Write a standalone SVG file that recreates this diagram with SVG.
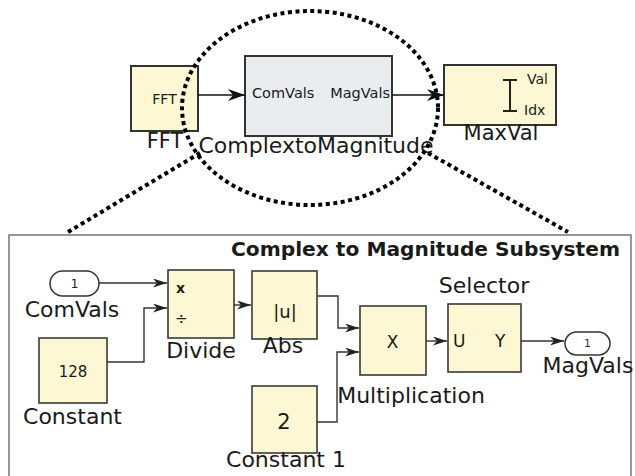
<svg xmlns="http://www.w3.org/2000/svg" width="635" height="476" viewBox="0 0 635 476">
<defs>
<marker id="arrS" markerUnits="userSpaceOnUse" markerWidth="15" markerHeight="10" refX="14" refY="4.5" orient="auto">
<path d="M0,0 L14,4.5 L0,9 L4,4.5 Z" fill="#222"/>
</marker>
<marker id="arrL" markerUnits="userSpaceOnUse" markerWidth="18" markerHeight="13" refX="17" refY="6" orient="auto">
<path d="M0,0 L17,6 L0,12 L5,6 Z" fill="#111"/>
</marker>
</defs>
<style>
text{font-family:"DejaVu Sans","Liberation Sans",sans-serif;fill:#1a1a1a}
.blk{fill:#fdf8d3;stroke:#3a3a3a;stroke-width:1.6}
.blkT{fill:#fdf8d3;stroke:#333;stroke-width:2}
.gray{fill:#e9edf0;stroke:#333;stroke-width:2}
.port{fill:#fff;stroke:#333;stroke-width:1.5}
.wire{fill:none;stroke:#333;stroke-width:1.4}
.wireT{fill:none;stroke:#111;stroke-width:1.6}
.dot{fill:none;stroke:#000;stroke-width:4;stroke-dasharray:4 3.5}
.lbl{font-size:22px}
.lblT{font-size:21px}
</style>

<!-- top level blocks -->
<g id="fft">
<rect class="blkT" x="131" y="66" width="67" height="65"/>
<text x="164.5" y="104" font-size="14" text-anchor="middle">FFT</text>
<text class="lblT" x="165" y="148" text-anchor="middle">FFT</text>
</g>
<g id="complexToMagnitude">
<rect class="gray" x="245" y="56" width="147" height="80"/>
<text x="252" y="98" font-size="14.5">ComVals</text>
<text x="390" y="98" font-size="14.5" text-anchor="end">MagVals</text>
<text x="316" y="153" font-size="22" text-anchor="middle">ComplextoMagnitude</text>
</g>
<g id="maxVal">
<rect class="blkT" x="444" y="65" width="112" height="60"/>
<path d="M510,80 V111 M503,80 H517 M503,111 H517" stroke="#222" stroke-width="2" fill="none"/>
<text x="527" y="84" font-size="14">Val</text>
<text x="524" y="115" font-size="14">Idx</text>
<text class="lblT" x="501" y="140" text-anchor="middle">MaxVal</text>
</g>

<!-- zoom indicator -->
<g id="zoomOutline">
<ellipse class="dot" cx="310" cy="108" rx="128" ry="97"/>
<path class="dot" d="M68,232 L200,153"/>
<path class="dot" d="M428,153 L568,232"/>
</g>

<!-- subsystem frame -->
<g id="subsystem">
<rect x="9" y="235" width="622" height="250" fill="none" stroke="#777" stroke-width="1.5"/>
<text x="620" y="256" font-size="20.2" font-weight="bold" text-anchor="end">Complex to Magnitude Subsystem</text>
</g>

<g id="inComVals">
<rect class="port" x="50" y="271" width="49" height="25" rx="12.5"/>
<text x="74.5" y="288" font-size="12" text-anchor="middle">1</text>
<text class="lbl" x="72" y="317" text-anchor="middle">ComVals</text>
</g>
<g id="constant">
<rect class="blk" x="39" y="338" width="68" height="65"/>
<text x="73" y="377" font-size="15" text-anchor="middle">128</text>
<text class="lbl" x="72.5" y="424" text-anchor="middle">Constant</text>
</g>
<g id="divide">
<rect class="blk" x="168" y="270" width="66" height="68"/>
<text x="176" y="293" font-size="14" font-weight="bold">x</text>
<text x="175" y="324" font-size="15">÷</text>
<text class="lbl" x="201" y="358" text-anchor="middle">Divide</text>
</g>
<g id="abs">
<rect class="blk" x="252" y="271" width="65" height="68"/>
<text x="285" y="318" font-size="18" text-anchor="middle">|u|</text>
<text class="lbl" x="283" y="353" text-anchor="middle">Abs</text>
</g>
<g id="constant1">
<rect class="blk" x="252" y="386" width="65" height="67"/>
<text x="284" y="429" font-size="21" text-anchor="middle">2</text>
<text class="lbl" x="286" y="467" text-anchor="middle">Constant 1</text>
</g>
<g id="multiplication">
<rect class="blk" x="360" y="306" width="66" height="69"/>
<text x="392.5" y="348" font-size="17" text-anchor="middle">X</text>
<text class="lbl" x="411" y="403" text-anchor="middle">Multiplication</text>
</g>
<g id="selector">
<rect class="blk" x="448" y="304" width="73" height="68"/>
<text x="453" y="347" font-size="17">U</text>
<text x="495" y="347" font-size="17">Y</text>
<text class="lbl" x="484" y="293" text-anchor="middle">Selector</text>
</g>
<g id="outMagVals">
<rect class="port" x="565" y="332" width="45" height="23" rx="11.5"/>
<text x="587.5" y="347" font-size="10" text-anchor="middle">1</text>
<text class="lbl" x="588" y="373" text-anchor="middle">MagVals</text>
</g>

<!-- connectors -->
<g id="connectors">
<path class="wireT" d="M198,95 H245" marker-end="url(#arrL)"/>
<path class="wireT" d="M392,95 H444" marker-end="url(#arrL)"/>
<path class="wire" d="M99,283 H167" marker-end="url(#arrS)"/>
<path class="wire" d="M107,362 H144 V308 H167" marker-end="url(#arrS)"/>
<path class="wire" d="M234,305 H251" marker-end="url(#arrS)"/>
<path class="wire" d="M317,296 H338 V328 H359" marker-end="url(#arrS)"/>
<path class="wire" d="M317,422 H337 V352 H359" marker-end="url(#arrS)"/>
<path class="wire" d="M426,341 H447" marker-end="url(#arrS)"/>
<path class="wire" d="M521,341 H564" marker-end="url(#arrS)"/>
</g>
</svg>
